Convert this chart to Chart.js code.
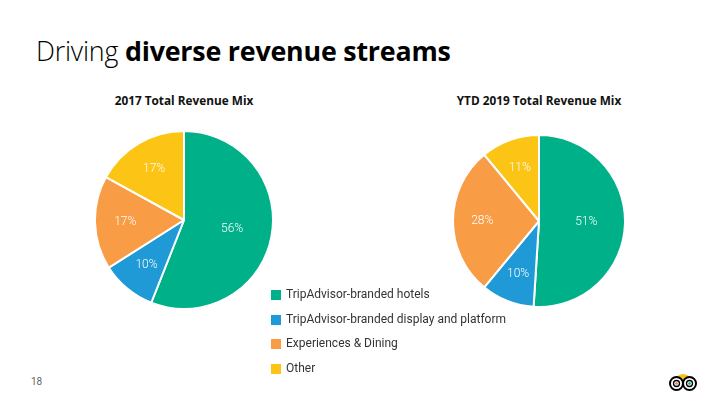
<!DOCTYPE html>
<html>
<head>
<meta charset="utf-8">
<script src="https://cdn.jsdelivr.net/npm/chart.js@4.4.1/dist/chart.umd.min.js"></script>
<style>
  html, body { margin: 0; padding: 0; background: #fff; }
  #page { position: relative; width: 720px; height: 405px; overflow: hidden; font-family: "Open Sans", sans-serif; }
  #title { position: absolute; left: 36px; top: 32px; font-size: 26.8px; color: #000; white-space: nowrap; letter-spacing: -0.2px; }
  #title .light { font-weight: 300; }
  #title .bold { font-weight: 700; }
  .sub { position: absolute; top: 92px; width: 260px; text-align: center; font-size: 11.8px; font-weight: 700; color: #111; }
  canvas { position: absolute; }
  #legend { position: absolute; left: 271px; top: 287px; font-family: Roboto, sans-serif; font-size: 12px; color: #333; }
  #legend .row { height: 24.5px; display: flex; align-items: flex-start; }
  #legend .sw { width: 10px; height: 10px; margin: 3px 5px 0 0; }
  #pnum { position: absolute; left: 31px; top: 376px; font-family: Roboto, sans-serif; font-size: 10px; color: #666; }
  #logo { position: absolute; left: 669px; top: 372px; }
</style>
</head>
<body>
<div id="page">
  <div id="title"><span class="light">Driving </span><span class="bold">diverse revenue streams</span></div>
  <div class="sub" style="left:54px;">2017 Total Revenue Mix</div>
  <div class="sub" style="left:409px;">YTD 2019 Total Revenue Mix</div>
  <canvas id="pie2017" width="180" height="180" style="left:94px; top:130px;"></canvas>
  <canvas id="pie2019" width="174" height="174" style="left:452px; top:134px;"></canvas>
  <div id="legend"></div>
  <div id="pnum">18</div>
  <svg id="logo" width="28" height="20" viewBox="0 0 28 20">
    <path d="M7 5 Q14 -1 21 5 L14 9 Z" fill="#f5c518"/>
    <circle cx="7.5" cy="11.5" r="6.5" fill="#fff" stroke="#000" stroke-width="2"/>
    <circle cx="20.5" cy="11.5" r="6.5" fill="#fff" stroke="#000" stroke-width="2"/>
    <circle cx="7.5" cy="11.5" r="3" fill="none" stroke="#000" stroke-width="1.3"/>
    <circle cx="20.5" cy="11.5" r="3" fill="none" stroke="#000" stroke-width="1.3"/>
    <circle cx="7.5" cy="11.5" r="1.3" fill="#f26b4c"/>
    <circle cx="20.5" cy="11.5" r="1.3" fill="#00af87"/>
  </svg>
</div>
<script>
const categories = ['TripAdvisor-branded hotels', 'TripAdvisor-branded display and platform', 'Experiences & Dining', 'Other'];
const mix2017 = [56, 10, 17, 17];
const mix2019 = [51, 10, 28, 11];
const colors = ['#00b088', '#1f9ad6', '#f89c45', '#fcc415'];

// legend
const legend = document.getElementById('legend');
categories.forEach(function(name, i) {
  const row = document.createElement('div');
  row.className = 'row';
  row.innerHTML = '<span class="sw" style="background:' + colors[i] + '"></span><span>' + name + '</span>';
  legend.appendChild(row);
});

// percent labels inside slices (big slices get labels nearer the centre)
const sliceLabels = {
  id: 'sliceLabels',
  afterDatasetsDraw(chart) {
    const ctx = chart.ctx;
    const meta = chart.getDatasetMeta(0);
    const values = chart.data.datasets[0].data;
    ctx.save();
    ctx.font = '300 12px Roboto, sans-serif';
    ctx.fillStyle = '#fff';
    ctx.textAlign = 'center';
    ctx.textBaseline = 'middle';
    meta.data.forEach(function(arc, i) {
      const p = arc.getProps(['x', 'y', 'startAngle', 'endAngle', 'outerRadius']);
      const mid = (p.startAngle + p.endAngle) / 2;
      const r = p.outerRadius * (values[i] >= 50 ? 0.55 : 0.66);
      ctx.fillText(values[i] + '%', p.x + Math.cos(mid) * r, p.y + Math.sin(mid) * r);
    });
    ctx.restore();
  }
};

function makePie(id, data) {
  return new Chart(document.getElementById(id), {
    type: 'pie',
    data: {
      labels: categories,
      datasets: [{
        data: data,
        backgroundColor: colors,
        borderColor: '#fff',
        borderWidth: 2
      }]
    },
    options: {
      responsive: false,
      animation: false,
      layout: { padding: 0 },
      plugins: { legend: { display: false }, tooltip: { enabled: false } }
    },
    plugins: [sliceLabels]
  });
}

makePie('pie2017', mix2017);
makePie('pie2019', mix2019);
</script>
</body>
</html>
